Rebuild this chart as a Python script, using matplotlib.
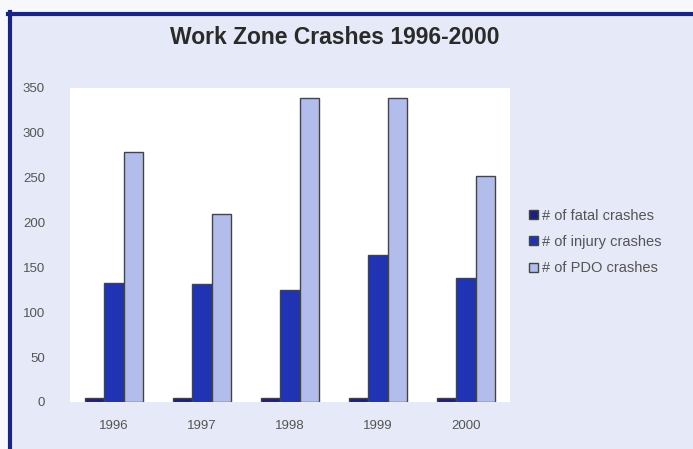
import numpy as np
import matplotlib
matplotlib.use("Agg")
import matplotlib.pyplot as plt
from matplotlib.patches import Rectangle
from matplotlib.lines import Line2D

plt.rcParams['font.family'] = ['Liberation Sans', 'DejaVu Sans']

years = ['1996', '1997', '1998', '1999', '2000']
fatal = [5, 5, 4, 4, 5]
injury = [133, 132, 125, 164, 138]
pdo = [279, 209, 339, 339, 252]
series_names = ['# of fatal crashes', '# of injury crashes', '# of PDO crashes']
colors = ['#1c1f7c', '#1f33b3', '#b3bdec']

fig = plt.figure(figsize=(6.93, 4.49), dpi=100)
fig.patch.set_facecolor('#f7f8fc')

# lavender panel with dark blue border on top and left
fig.add_artist(Rectangle((11 / 693, 0), 1, 1 - 14 / 449, transform=fig.transFigure,
                         facecolor='#e6e9f7', edgecolor='none', zorder=0))
fig.add_artist(Line2D([9.5 / 693, 9.5 / 693], [0, 1 - 12 / 449], transform=fig.transFigure,
                      color='#1a2380', lw=3))
fig.add_artist(Line2D([8 / 693, 1], [1 - 13.5 / 449, 1 - 13.5 / 449], transform=fig.transFigure,
                      color='#1a2380', lw=3))

ax = fig.add_axes([70 / 693, 1 - 402 / 449, 440 / 693, 314 / 449])
ax.set_facecolor('white')

x = np.arange(len(years))
w = 0.22
for i, (vals, c) in enumerate(zip([fatal, injury, pdo], colors)):
    ax.bar(x + (i - 1) * w, vals, w, color=c, edgecolor='#444444', linewidth=1.0,
           label=series_names[i], zorder=3)

ax.set_xlim(-0.5, len(years) - 0.5)
ax.set_ylim(0, 350)
ax.set_yticks(range(0, 351, 50))
ax.set_xticks(x)
ax.set_xticklabels(years)
ax.tick_params(axis='both', length=0, labelsize=9.5, colors='#555555')
ax.tick_params(axis='y', pad=18)
ax.tick_params(axis='x', pad=13)
for s in ax.spines.values():
    s.set_visible(False)

fig.text(335 / 693, 1 - 37 / 449, 'Work Zone Crashes 1996-2000', ha='center', va='center',
         fontsize=16.5, fontweight='bold', color='#2a2a2a')

fig.legend(loc='center left', bbox_to_anchor=(516 / 693, 1 - 242 / 449), frameon=False,
           fontsize=10.5, handlelength=0.6, handleheight=0.6, handletextpad=0.3,
           labelspacing=0.85, labelcolor='#555555')

fig.savefig('out.png', dpi=100, facecolor=fig.get_facecolor())
